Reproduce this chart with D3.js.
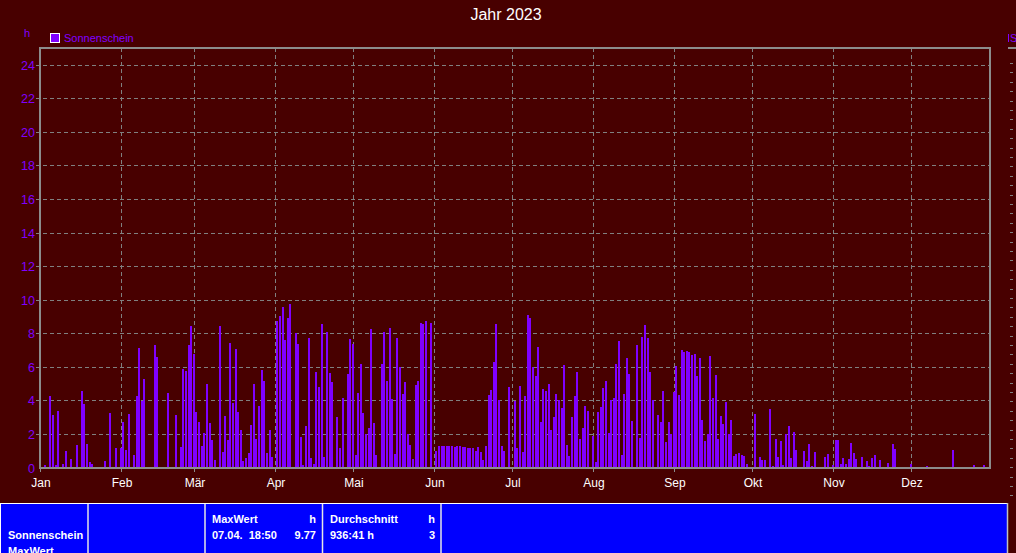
<!DOCTYPE html>
<html><head><meta charset="utf-8">
<script src="https://cdn.jsdelivr.net/npm/d3@7"></script>
<style>
html,body{margin:0;padding:0;background:#480000;overflow:hidden}
svg{display:block}
</style>
</head><body>
<svg id="c" width="1016" height="553"></svg>
<script>
const chartTitle = "Jahr 2023";
const seriesName = "Sonnenschein";
const unitLabel = "h";
const year = 2023;
// daily sunshine hours, 1 Jan .. 31 Dec 2023
const sunshine = [
1.85,0,0.15,0,4.24,3.1,0.16,3.34,0,0.22,
1.0,0,0.52,0,1.36,0,4.54,3.76,1.42,0.34,
0.22,0,0,0,0,0.4,0,3.22,0,1.18,
0,1.18,2.74,1.06,3.16,0,0.76,4.24,7.12,3.94,
5.26,0,0,0,7.3,6.58,0,0,0,4.42,
0,0,3.1,0,1.24,5.86,5.74,7.3,8.44,6.76,
3.28,2.74,1.3,2.08,4.96,2.68,1.66,0.46,0,8.44,
0.94,3.04,1.66,7.42,3.82,7.06,3.28,2.26,0.4,0.58,
0.88,2.56,4.96,1.72,3.64,5.8,5.14,0.88,2.26,0.64,
0,8.74,9.04,9.58,7.6,8.92,9.77,0,8.02,7.36,
1.84,0.16,2.5,7.72,0.58,0.22,5.68,4.78,8.56,0.64,
8.08,5.62,5.08,0,2.98,1.18,4.12,0,5.56,7.66,
7.36,0.76,4.42,6.16,3.22,2.02,2.38,8.26,2.68,0.76,
0,6.16,8.08,5.14,8.32,4.06,0.82,7.72,5.98,4.36,
5.08,2.02,1.36,0.52,4.9,5.14,8.62,8.56,8.74,0,
8.62,0,1.0,1.3,1.3,1.3,1.3,1.3,1.3,1.24,
1.3,1.3,1.24,1.24,1.18,1.18,1.18,1.0,1.24,0.94,
0.46,1.3,4.3,4.6,6.28,8.56,4.0,1.3,1.0,0,
4.78,0,3.94,1.18,4.84,0.94,4.24,9.1,8.92,5.98,
5.44,7.18,2.74,4.66,4.54,4.96,2.26,2.98,4.36,4.0,
3.52,6.1,1.36,0.7,2.98,4.24,5.68,1.72,2.38,3.64,
3.34,0,1.9,0.34,3.28,3.58,4.72,5.14,2.08,4.0,
4.12,6.16,7.54,0.76,4.36,6.52,5.56,2.8,0,7.3,
1.78,7.78,8.5,7.72,5.68,4.0,0,3.1,2.74,4.54,
1.54,2.74,2.02,4.48,6.04,4.3,7.0,6.88,6.94,6.88,
6.7,6.76,5.44,6.52,2.86,1.6,2.02,6.64,4.12,5.5,
1.72,3.04,2.62,3.88,2.02,2.86,0.7,0.82,0.88,0.76,
0.7,0.22,0,0,3.16,0,0.64,0.46,0.46,0,
3.46,0.1,1.72,0.64,1.6,0.16,2.02,2.5,0.58,2.14,
1.06,0,0,1.0,0.4,1.42,0.1,0.94,0,0,
0,0.64,0.82,0,0.16,1.66,1.66,0.22,0.58,0.22,
0.52,1.48,0.88,0.52,0,0.64,0,0.4,0.1,0.58,
0.76,0,0.46,0,0,0.28,0,1.42,1.12,0,
0,0.04,0.04,0,0.22,0,0,0,0,0,
0.1,0,0,0.04,0.04,0.04,0,0,0,0,
1.06,0,0,0,0,0.04,0,0,0.16,0.04,
0,0,0.16,0,0
];
const monthLabels = ["Jan","Feb","Mär","Apr","Mai","Jun","Jul","Aug","Sep","Okt","Nov","Dez"];
const yTickValues = [0,2,4,6,8,10,12,14,16,18,20,22,24];
const tableRow1 = ["MaxWert", "h", "Durchschnitt", "h"];
const tableRow2 = ["07.04.  18:50", "9.77", "936:41 h", "3"];
const tableRowLabels = ["Sonnenschein", "MaxWert"];

const W = 1016, H = 553;
const M = {left: 40, right: 990, top: 48, bottom: 467.5};
const BG = "#480000", PURPLE = "#8000ff", GRID = "#808080", FRAME = "#8c8c8c";

const svg = d3.select("#c");
svg.append("rect").attr("width", W).attr("height", H).attr("fill", BG);

const x = d3.scaleTime()
  .domain([new Date(year, 0, 1), new Date(year + 1, 0, 1)])
  .range([M.left, 992]);
const y = d3.scaleLinear().domain([0, 25]).range([M.bottom, M.top]);

const data = sunshine.map((v, i) => ({date: d3.timeDay.offset(new Date(year, 0, 1), i), v}));

// title
svg.append("text").attr("x", 506).attr("y", 20).attr("text-anchor", "middle")
  .attr("fill", "#ffffff").attr("font-family", "Liberation Sans, Arial, sans-serif")
  .attr("font-size", 16).text(chartTitle);

// unit label
svg.append("text").attr("x", 24).attr("y", 37).attr("fill", PURPLE)
  .attr("font-family", "Liberation Sans, Arial, sans-serif").attr("font-size", 11).text(unitLabel);

// legend
svg.append("rect").attr("x", 50.5).attr("y", 33.5).attr("width", 9).attr("height", 9)
  .attr("fill", PURPLE).attr("stroke", "#ffffff").attr("stroke-width", 1);
svg.append("text").attr("x", 64).attr("y", 42).attr("fill", PURPLE)
  .attr("font-family", "Liberation Sans, Arial, sans-serif").attr("font-size", 11).text(seriesName);

// horizontal grid + y labels
const gy = svg.append("g").attr("shape-rendering", "crispEdges");
yTickValues.filter(t => t > 0).forEach(t => {
  gy.append("line").attr("x1", 36).attr("x2", M.right)
    .attr("y1", Math.round(y(t)) + 0.5).attr("y2", Math.round(y(t)) + 0.5)
    .attr("stroke", GRID).attr("stroke-width", 1).attr("stroke-dasharray", "4,3");
});
svg.append("g").selectAll("text").data(yTickValues).join("text")
  .attr("x", 35).attr("y", d => y(d) + 5).attr("text-anchor", "end")
  .attr("fill", PURPLE).attr("font-family", "Liberation Sans, Arial, sans-serif")
  .attr("font-size", 12.5).text(d => d);

// vertical month grid
const months = d3.timeMonth.range(new Date(year, 0, 1), new Date(year + 1, 0, 1));
months.forEach((m, i) => {
  const xx = Math.round(x(m)) + 0.5;
  if (i > 0) {
    gy.append("line").attr("x1", xx).attr("x2", xx).attr("y1", M.top).attr("y2", M.bottom)
      .attr("stroke", GRID).attr("stroke-width", 1).attr("stroke-dasharray", "4,3");
  }
  gy.append("line").attr("x1", xx).attr("x2", xx).attr("y1", M.bottom).attr("y2", 472)
    .attr("stroke", FRAME).attr("stroke-width", 1);
  svg.append("text").attr("x", Math.round(x(m)) + 1).attr("y", 487).attr("text-anchor", "middle")
    .attr("fill", "#ffffff").attr("font-family", "Liberation Sans, Arial, sans-serif")
    .attr("font-size", 12).text(monthLabels[i]);
});

// bars
svg.append("g").attr("shape-rendering", "crispEdges").selectAll("rect")
  .data(data.filter(d => d.v > 0)).join("rect")
  .attr("x", d => Math.round(x(d.date)) - 1)
  .attr("width", 2)
  .attr("y", d => y(d.v))
  .attr("height", d => Math.max(1, y(0) - y(d.v)))
  .attr("fill", PURPLE);

// frame
svg.append("rect").attr("x", M.left).attr("y", M.top)
  .attr("width", M.right - M.left).attr("height", M.bottom - M.top + 0.5)
  .attr("fill", "none").attr("stroke", FRAME).attr("stroke-width", 2)
  .attr("shape-rendering", "crispEdges");

// neighbouring (clipped) chart edge on the right
svg.append("line").attr("x1", 1008).attr("x2", 1016).attr("y1", 48).attr("y2", 48)
  .attr("stroke", FRAME).attr("stroke-width", 2);
svg.append("text").attr("x", 1010).attr("y", 42).attr("fill", PURPLE)
  .attr("font-family", "Liberation Sans, Arial, sans-serif").attr("font-size", 11).text(seriesName);
svg.append("rect").attr("x", 1008).attr("y", 34).attr("width", 1).attr("height", 8).attr("fill", PURPLE);
const rt = svg.append("g").attr("shape-rendering", "crispEdges");
d3.range(63, 500, 9.4).forEach(t => {
  rt.append("line").attr("x1", 1010).attr("x2", 1013).attr("y1", Math.round(t) + 0.5).attr("y2", Math.round(t) + 0.5)
    .attr("stroke", GRID);
});

// bottom table panel
const tp = svg.append("g");
tp.append("rect").attr("x", 0.5).attr("y", 503.5).attr("width", 1007).attr("height", 60)
  .attr("fill", "#0000ff").attr("stroke", "#ffffff").attr("stroke-width", 1);
tp.append("line").attr("x1", 1007.5).attr("x2", 1007.5).attr("y1", 503).attr("y2", 553)
  .attr("stroke", "#c0c0c0").attr("stroke-width", 1.5);
[88, 205, 322.5, 441].forEach(xx => {
  tp.append("line").attr("x1", xx).attr("x2", xx).attr("y1", 504).attr("y2", 553)
    .attr("stroke", "#e6e6e6").attr("stroke-width", 1.5);
});
const tf = "Liberation Sans, Arial, sans-serif";
const tt = (xx, yy, s, anchor) => tp.append("text").attr("x", xx).attr("y", yy)
  .attr("text-anchor", anchor || "start").attr("fill", "#ffffff")
  .attr("font-family", tf).attr("font-weight", "bold").attr("font-size", 11).text(s);
tt(8, 539, tableRowLabels[0]);
tt(8, 555, tableRowLabels[1]);
tt(212, 523, tableRow1[0]);
tt(316, 523, tableRow1[1], "end");
tt(212, 539, tableRow2[0]).attr("xml:space", "preserve").style("white-space", "pre");
tt(316, 539, tableRow2[1], "end");
tt(330, 523, tableRow1[2]);
tt(435, 523, tableRow1[3], "end");
tt(330, 539, tableRow2[2]);
tt(435, 539, tableRow2[3], "end");
</script>
</body></html>
